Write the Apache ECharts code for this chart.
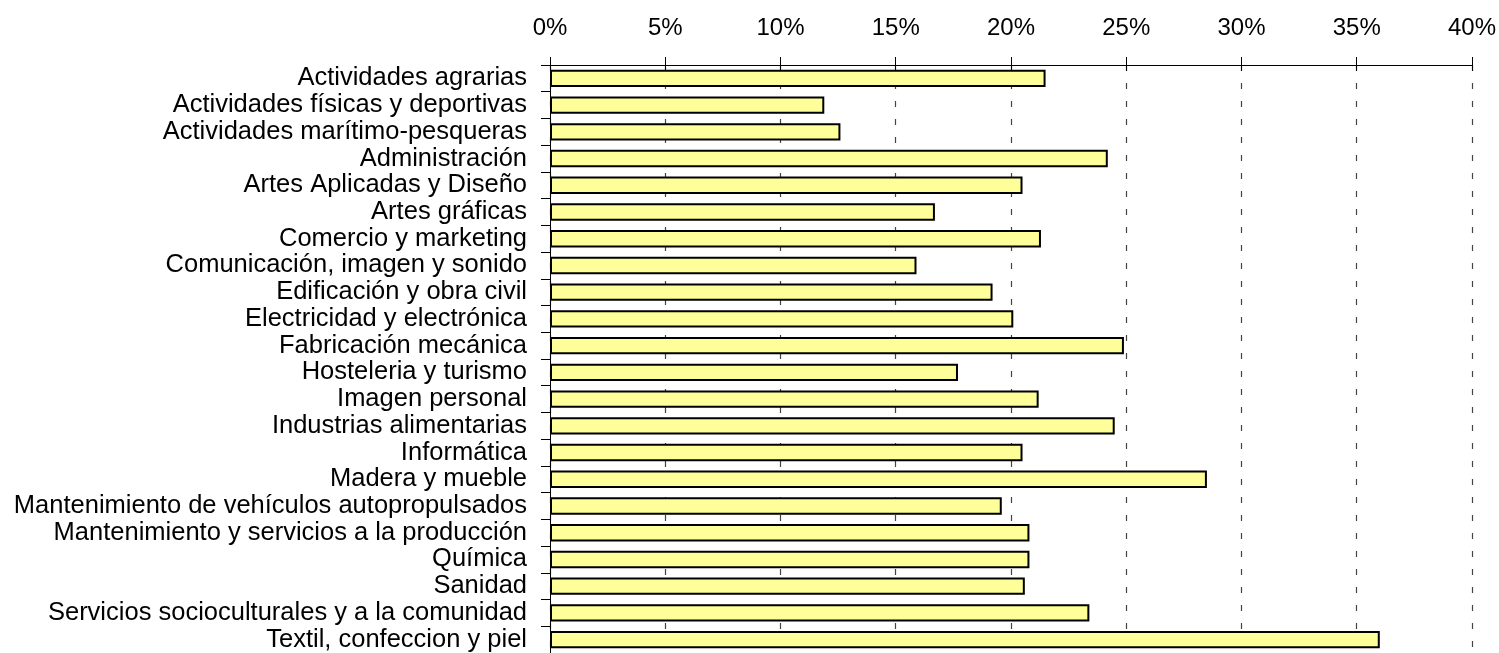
<!DOCTYPE html>
<html>
<head>
<meta charset="utf-8">
<script src="https://cdn.jsdelivr.net/npm/echarts@6/dist/echarts.min.js"></script>
<style>
html,body{margin:0;padding:0;background:#fff;}
#chart{width:1499px;height:653px;}
</style>
</head>
<body>
<div id="chart"></div>
<script>
const categories = [
  "Actividades agrarias",
  "Actividades físicas y deportivas",
  "Actividades marítimo-pesqueras",
  "Administración",
  "Artes Aplicadas y Diseño",
  "Artes gráficas",
  "Comercio y marketing",
  "Comunicación, imagen y sonido",
  "Edificación y obra civil",
  "Electricidad y electrónica",
  "Fabricación mecánica",
  "Hosteleria y turismo",
  "Imagen personal",
  "Industrias alimentarias",
  "Informática",
  "Madera y mueble",
  "Mantenimiento de vehículos autopropulsados",
  "Mantenimiento y servicios a la producción",
  "Química",
  "Sanidad",
  "Servicios socioculturales y a la comunidad",
  "Textil, confeccion y piel"
];
const values = [21.5, 11.9, 12.6, 24.2, 20.5, 16.7, 21.3, 15.9, 19.2, 20.1, 24.9, 17.7, 21.2, 24.5, 20.5, 28.5, 19.6, 20.8, 20.8, 20.6, 23.4, 36.0];
const tickMin = 0, tickMax = 40, tickStep = 5;

const chart = echarts.init(document.getElementById('chart'), null, {renderer: 'canvas'});
const font = "Arial, 'Liberation Sans', sans-serif";
chart.setOption({
  animation: false,
  backgroundColor: '#ffffff',
  grid: {left: 550, right: 27, top: 65, height: 588.5, containLabel: false},
  xAxis: [{
    type: 'value', position: 'top', min: tickMin, max: tickMax, interval: tickStep,
    axisLine: {show: true, lineStyle: {color: '#000', width: 1}},
    axisTick: {show: true, length: 8, lineStyle: {color: '#000', width: 1}},
    axisLabel: {show: true, margin: 25, color: '#000', fontSize: 24, fontFamily: font,
      formatter: v => v + '%'},
    splitLine: {show: true, lineStyle: {color: '#444', width: 1.2, type: [6, 12]}}
  }, {
    type: 'value', position: 'top', min: tickMin, max: tickMax, interval: tickStep,
    axisLine: {show: false},
    axisTick: {show: true, inside: true, length: 6, lineStyle: {color: '#000', width: 1}},
    axisLabel: {show: false},
    splitLine: {show: false}
  }],
  yAxis: {
    type: 'category', data: categories, inverse: true,
    axisLine: {show: true, lineStyle: {color: '#000', width: 1}},
    axisTick: {show: true, length: 9, lineStyle: {color: '#000', width: 1}},
    axisLabel: {margin: 23, color: '#000', fontSize: 25.5, fontFamily: font, interval: 0,
      padding: [3, 0, 0, 0]},
    splitLine: {show: false}
  },
  series: [{
    type: 'bar', data: values, xAxisIndex: 0,
    barCategoryGap: '35%',
    itemStyle: {color: '#FFFF99', borderColor: '#000', borderWidth: 2},
    silent: true
  }]
});
</script>
</body>
</html>
